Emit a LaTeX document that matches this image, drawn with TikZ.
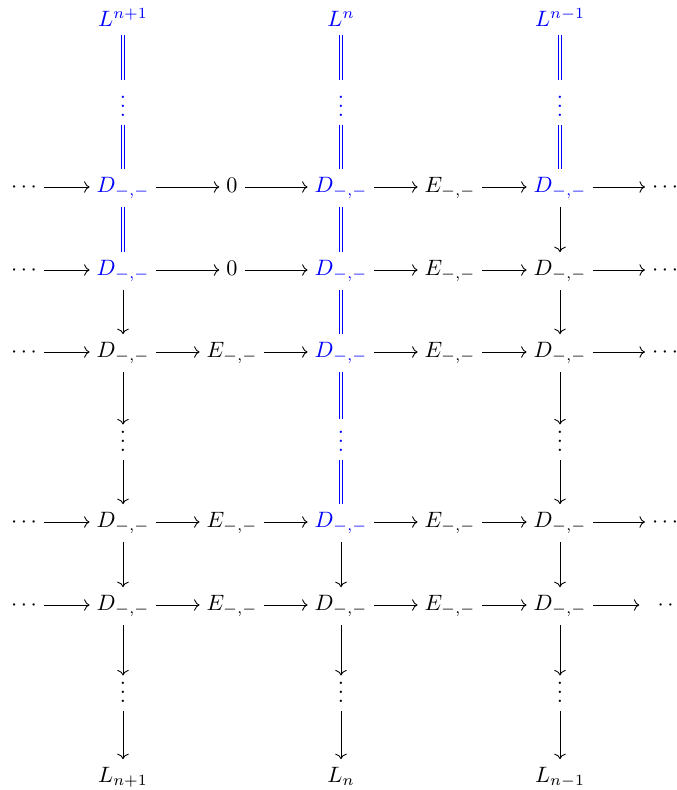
\documentclass[tikz,border=0pt]{standalone}
\usetikzlibrary{cd}
\newcommand{\myD}{D_{-,-}}
\newcommand{\myE}{E_{-,-}}
\newcommand{\eqedge}[2]{%
  \draw[blue,line width=0.4pt,transform canvas={xshift=-0.65pt}] (#1) -- (#2);
  \draw[blue,line width=0.4pt,transform canvas={xshift=0.65pt}] (#1) -- (#2);}
\begin{document}
\begin{tikzpicture}[x=0.45pt,y=-0.45pt,
  cell/.style={shape=asymmetrical rectangle, inner xsep=3pt, inner ysep=3.5pt, text=black},
  bcell/.style={cell, text=blue},
  bdots/.style={bcell, text height=12.7pt, text depth=0pt},
  kdots/.style={cell, text height=8.5pt, text depth=0pt},
  ar/.style={-cm to, line width=0.4pt, draw=black}]
\useasboundingbox (0,0) rectangle (677,790);
% columns
\def\xL{24}\def\xa{123}\def\xb{232}\def\xc{341}\def\xd{450}\def\xe{560}\def\xR{665}
% top row
\node[bcell] (t1) at (\xa,21) {$L^{n+1}$};
\node[bcell] (t3) at (\xc,21) {$L^{n}$};
\node[bcell] (t5) at (\xe,21) {$L^{n-1}$};
% first vdots row
\node[bdots] (u1) at (\xa,111) {$\vdots$};
\node[bdots] (u3) at (\xc,111) {$\vdots$};
\node[bdots] (u5) at (\xe,111) {$\vdots$};
% row 1
\node[cell]  (l1) at (\xL,187) {$\cdots$};
\node[bcell] (a1) at (\xa,187) {$\myD$};
\node[cell]  (b1) at (\xb,187) {$0$};
\node[bcell] (c1) at (\xc,187) {$\myD$};
\node[cell]  (d1) at (\xd,187) {$\myE$};
\node[bcell] (e1) at (\xe,187) {$\myD$};
\node[cell]  (r1) at (\xR,187) {$\cdots$};
% row 2
\node[cell]  (l2) at (\xL,270) {$\cdots$};
\node[bcell] (a2) at (\xa,270) {$\myD$};
\node[cell]  (b2) at (\xb,270) {$0$};
\node[bcell] (c2) at (\xc,270) {$\myD$};
\node[cell]  (d2) at (\xd,270) {$\myE$};
\node[cell]  (e2) at (\xe,270) {$\myD$};
\node[cell]  (r2) at (\xR,270) {$\cdots$};
% row 3
\node[cell]  (l3) at (\xL,352) {$\cdots$};
\node[cell]  (a3) at (\xa,352) {$\myD$};
\node[cell]  (b3) at (\xb,352) {$\myE$};
\node[bcell] (c3) at (\xc,352) {$\myD$};
\node[cell]  (d3) at (\xd,352) {$\myE$};
\node[cell]  (e3) at (\xe,352) {$\myD$};
\node[cell]  (r3) at (\xR,352) {$\cdots$};
% second vdots row
\node[kdots] (v1) at (\xa,446) {$\vdots$};
\node[bdots, text height=11pt] (v3) at (\xc,446) {$\vdots$};
\node[kdots] (v5) at (\xe,446) {$\vdots$};
% row 4
\node[cell]  (l4) at (\xL,522) {$\cdots$};
\node[cell]  (a4) at (\xa,522) {$\myD$};
\node[cell]  (b4) at (\xb,522) {$\myE$};
\node[bcell] (c4) at (\xc,522) {$\myD$};
\node[cell]  (d4) at (\xd,522) {$\myE$};
\node[cell]  (e4) at (\xe,522) {$\myD$};
\node[cell]  (r4) at (\xR,522) {$\cdots$};
% row 5
\node[cell]  (l5) at (\xL,605) {$\cdots$};
\node[cell]  (a5) at (\xa,605) {$\myD$};
\node[cell]  (b5) at (\xb,605) {$\myE$};
\node[cell]  (c5) at (\xc,605) {$\myD$};
\node[cell]  (d5) at (\xd,605) {$\myE$};
\node[cell]  (e5) at (\xe,605) {$\myD$};
\node[cell]  (r5) at (\xR,605) {$\mkern9mu\cdots$};
% third vdots row
\node[kdots] (w1) at (\xa,697) {$\vdots$};
\node[kdots] (w3) at (\xc,697) {$\vdots$};
\node[kdots] (w5) at (\xe,697) {$\vdots$};
% bottom row
\node[cell]  (z1) at (\xa,777) {$L_{n+1}$};
\node[cell]  (z3) at (\xc,777) {$L_{n}$};
\node[cell]  (z5) at (\xe,777) {$L_{n-1}$};
% horizontal arrows
\foreach \r in {1,...,5}{
  \draw[ar] (l\r) -- (a\r);
  \draw[ar] (a\r) -- (b\r);
  \draw[ar] (b\r) -- (c\r);
  \draw[ar] (c\r) -- (d\r);
  \draw[ar] (d\r) -- (e\r);
  \draw[ar] (e\r) -- (r\r);
}
% column 1
\eqedge{t1}{u1}
\eqedge{u1}{a1}
\eqedge{a1}{a2}
\draw[ar] (a2) -- (a3);
\draw[ar] (a3) -- (v1);
\draw[ar] (v1) -- (a4);
\draw[ar] (a4) -- (a5);
\draw[ar] (a5) -- (w1);
\draw[ar] (w1) -- (z1);
% column 3
\eqedge{t3}{u3}
\eqedge{u3}{c1}
\eqedge{c1}{c2}
\eqedge{c2}{c3}
\eqedge{c3}{v3}
\eqedge{v3}{c4}
\draw[ar] (c4) -- (c5);
\draw[ar] (c5) -- (w3);
\draw[ar] (w3) -- (z3);
% column 5
\eqedge{t5}{u5}
\eqedge{u5}{e1}
\draw[ar] (e1) -- (e2);
\draw[ar] (e2) -- (e3);
\draw[ar] (e3) -- (v5);
\draw[ar] (v5) -- (e4);
\draw[ar] (e4) -- (e5);
\draw[ar] (e5) -- (w5);
\draw[ar] (w5) -- (z5);
\end{tikzpicture}
\end{document}
